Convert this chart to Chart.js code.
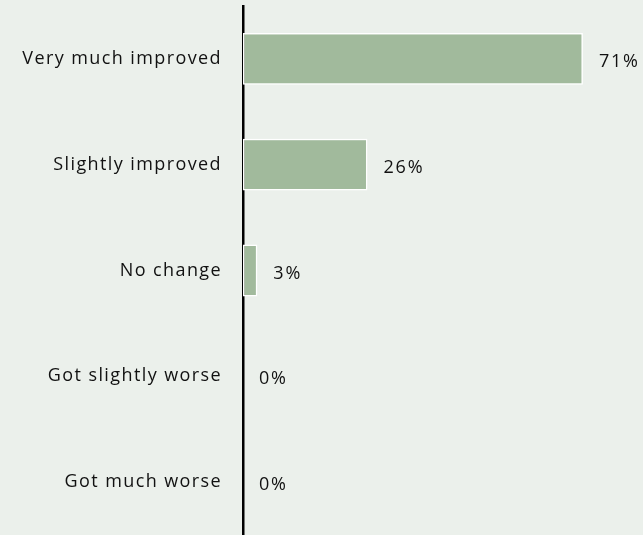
<!DOCTYPE html>
<html>
<head>
<meta charset="utf-8">
<script src="https://cdn.jsdelivr.net/npm/chart.js@4/dist/chart.umd.min.js"></script>
<style>
html,body{margin:0;padding:0;background:#EBF0EB;}
#wrap{width:643px;height:535px;position:relative;}
</style>
</head>
<body>
<div id="wrap"><canvas id="c" width="643" height="535"></canvas></div>
<script>
const categories = ["Very much improved","Slightly improved","No change","Got slightly worse","Got much worse"];
const values = [71, 26, 3, 0, 0];
const valueLabels = ["71%","26%","3%","0%","0%"];

const spacingPlugin = {
  id: 'spacing',
  beforeDraw(chart) {
    chart.ctx.letterSpacing = '1.4px';
  }
};

const valueLabelPlugin = {
  id: 'valueLabels',
  afterDatasetsDraw(chart) {
    const ctx = chart.ctx;
    const meta = chart.getDatasetMeta(0);
    ctx.save();
    ctx.letterSpacing = '1.8px';
    ctx.font = '18px "Open Sans"';
    ctx.fillStyle = '#111';
    ctx.textAlign = 'left';
    ctx.textBaseline = 'middle';
    meta.data.forEach((bar, i) => {
      ctx.fillText(valueLabels[i], bar.x + 16, bar.y + 3);
    });
    ctx.restore();
  }
};

new Chart(document.getElementById('c'), {
  type: 'bar',
  data: {
    labels: categories,
    datasets: [{
      data: values,
      backgroundColor: '#A1BA9C',
      borderColor: '#FFFFFF',
      borderWidth: 1.5,
      borderSkipped: false,
      categoryPercentage: 1,
      barPercentage: 0.49
    }]
  },
  options: {
    indexAxis: 'y',
    responsive: false,
    animation: false,
    layout: { padding: { top: 6, bottom: -2, right: 17, left: 0 } },
    plugins: { legend: { display: false }, tooltip: { enabled: false } },
    scales: {
      x: {
        min: 0, max: 80,
        display: false
      },
      y: {
        grid: { display: false, drawTicks: false },
        border: { display: true, color: '#000', width: 2.5 },
        ticks: {
          color: '#111',
          font: { family: '"Open Sans"', size: 18 },
          padding: 21
        },
        afterFit(scale) {
          scale.width = 243;
          scale.paddingTop = 0;
          scale.paddingBottom = 0;
        }
      }
    }
  },
  plugins: [spacingPlugin, valueLabelPlugin]
});
</script>
</body>
</html>
